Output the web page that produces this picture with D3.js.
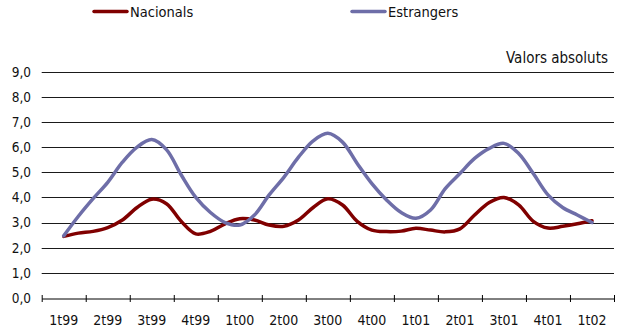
<!DOCTYPE html>
<html>
<head>
<meta charset="utf-8">
<script src="https://cdn.jsdelivr.net/npm/d3@7"></script>
<style>
  html, body { margin: 0; padding: 0; background: #fff; }
  svg { display: block; }
  text { font-family: "Liberation Sans Narrow", "DejaVu Sans Condensed", "Roboto Condensed", sans-serif; fill: #111; }
</style>
</head>
<body>
<svg id="chart" width="624" height="331"></svg>
<script>
const quarters = ["1t99","2t99","3t99","4t99","1t00","2t00","3t00","4t00","1t01","2t01","3t01","4t01","1t02"];
const yTicks = [0,1,2,3,4,5,6,7,8,9];
// monthly values (3 per quarter, quarter label on middle point)
const nacionals = [2.45,2.58,2.65,2.8,3.1,3.6,3.93,3.75,3.05,2.55,2.65,2.95,3.15,3.1,2.9,2.85,3.1,3.6,3.95,3.7,3.05,2.7,2.64,2.66,2.77,2.7,2.63,2.75,3.3,3.8,4.0,3.7,3.05,2.78,2.85,2.95,3.07];
const estrangers = [2.47,3.25,3.95,4.6,5.4,6.0,6.3,5.9,4.9,4.0,3.4,3.0,2.9,3.3,4.1,4.8,5.6,6.25,6.55,6.2,5.35,4.55,3.9,3.4,3.17,3.5,4.35,4.95,5.55,5.95,6.15,5.75,4.95,4.1,3.6,3.3,3.0];
const seriesNames = ["Nacionals","Estrangers"];
const seriesColors = ["#800000","#6e6ea8"];

const svg = d3.select("#chart");
const mLeft = 41.7, mRight = 614, mTop = 71.7, mBottom = 298;

const x = d3.scaleLinear().domain([-1.5, quarters.length*3 - 1.5]).range([mLeft, mRight]);
const y = d3.scaleLinear().domain([0, 9]).range([mBottom, mTop]);

// gridlines
svg.append("g").selectAll("line").data(yTicks.filter(d => d > 0)).join("line")
  .attr("x1", mLeft).attr("x2", mRight)
  .attr("y1", d => Math.round(y(d)) + 0.5).attr("y2", d => Math.round(y(d)) + 0.5)
  .attr("stroke", "#1a1a1a").attr("stroke-width", 1);

// y labels
svg.append("g").selectAll("text").data(yTicks).join("text")
  .attr("x", 31).attr("y", d => y(d)).attr("dy", "0.36em")
  .attr("text-anchor", "end").attr("font-size", 13.5)
  .text(d => d3.format(".1f")(d).replace(".", ","));

// x axis
const xAxis = d3.axisBottom(x)
  .tickValues(d3.range(quarters.length + 1).map(i => i*3 - 1.5))
  .tickSize(0).tickFormat("");
const gx = svg.append("g").attr("transform", `translate(0,${Math.round(mBottom)+0.5})`).call(xAxis);
gx.select(".domain").attr("stroke", "#000");
gx.selectAll(".tick line").attr("y1", -3.5).attr("y2", 3.5).attr("stroke", "#000");

svg.append("g").selectAll("text").data(quarters).join("text")
  .attr("x", (d, i) => x(i*3)).attr("y", 325)
  .attr("text-anchor", "middle").attr("font-size", 14)
  .text(d => d);

// lines
const line = d3.line().x((d, i) => x(i)).y(d => y(d)).curve(d3.curveCatmullRom.alpha(0.5));
[nacionals, estrangers].forEach((s, k) => {
  svg.append("path").datum(s)
    .attr("d", line).attr("fill", "none")
    .attr("stroke", seriesColors[k]).attr("stroke-width", 3.5)
    .attr("stroke-linejoin", "round").attr("stroke-linecap", "round");
});

// unit label
svg.append("text").attr("x", 608).attr("y", 62.5).attr("text-anchor", "end")
  .attr("font-size", 15).text("Valors absoluts");

// legend
const legX = [94, 352];
seriesNames.forEach((n, k) => {
  const g = svg.append("g");
  g.append("line").attr("x1", legX[k]).attr("x2", legX[k] + 33).attr("y1", 11.5).attr("y2", 11.5)
    .attr("stroke", seriesColors[k]).attr("stroke-width", 3.5).attr("stroke-linecap", "round");
  g.append("text").attr("x", legX[k] + 36).attr("y", 17.3)
    .attr("font-size", 14.5).text(n);
});
</script>
</body>
</html>
